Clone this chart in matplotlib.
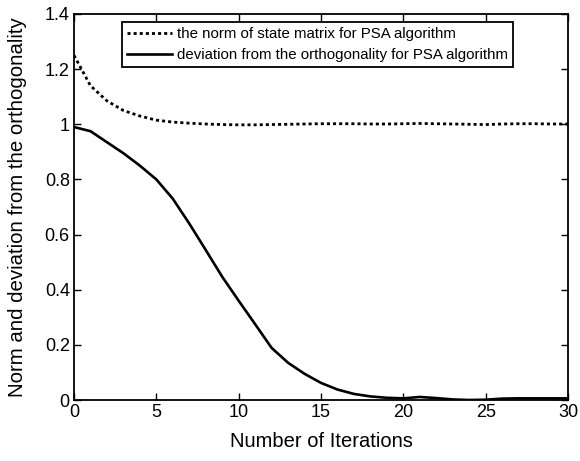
import matplotlib
matplotlib.use("Agg")
import matplotlib.pyplot as plt

iters = list(range(0, 31))
norm_vals = [1.25, 1.14, 1.085, 1.05, 1.03, 1.015, 1.008, 1.004, 1.001, 0.999, 0.998,
             0.998, 0.999, 1.0, 1.001, 1.002, 1.002, 1.002, 1.001, 1.001, 1.002,
             1.003, 1.002, 1.001, 1.0, 0.999, 1.001, 1.002, 1.002, 1.001, 1.001]
dev_vals = [0.99, 0.975, 0.935, 0.895, 0.85, 0.8, 0.73, 0.64, 0.544, 0.447, 0.36,
            0.275, 0.189, 0.135, 0.095, 0.062, 0.038, 0.022, 0.013, 0.008, 0.006,
            0.011, 0.007, 0.002, 0.0, 0.001, 0.005, 0.006, 0.006, 0.006, 0.006]

plt.rcParams['font.family'] = ['Liberation Sans', 'DejaVu Sans']
fig = plt.figure(figsize=(5.8, 4.61), dpi=100)
ax = fig.add_axes([74/580, 1-400/461, 494/580, 386/461])
ax.plot(iters, norm_vals, color='black', linestyle=(0, (1.1, 1.1)), lw=2.0,
        label='the norm of state matrix for PSA algorithm')
ax.plot(iters, dev_vals, color='black', linestyle='-', lw=1.9,
        label='deviation from the orthogonality for PSA algorithm')
ax.set_xlim(0, 30)
ax.set_ylim(0, 1.4)
ax.set_xticks([0, 5, 10, 15, 20, 25, 30])
ax.set_yticks([0, 0.2, 0.4, 0.6, 0.8, 1.0, 1.2, 1.4])
ax.set_yticklabels(['0', '0.2', '0.4', '0.6', '0.8', '1', '1.2', '1.4'])
ax.tick_params(direction='in', top=True, right=True, labelsize=13, length=5, width=1, pad=3)
for s in ax.spines.values():
    s.set_linewidth(1.3)
ax.set_xlabel('Number of Iterations', fontsize=14.5, labelpad=8)
ax.set_ylabel('Norm and deviation from the orthogonality', fontsize=14.7)
ax.yaxis.set_label_coords(-47/494, 0.5)
leg = ax.legend(loc='upper left', bbox_to_anchor=(48/494, 1-8/386), fontsize=10.8,
                frameon=True, fancybox=False, edgecolor='black', framealpha=1,
                borderpad=0.35, labelspacing=0.45, handlelength=3.0, handletextpad=0.3,
                borderaxespad=0)
leg.get_frame().set_linewidth(1.3)
fig.savefig('out.png', dpi=100)
